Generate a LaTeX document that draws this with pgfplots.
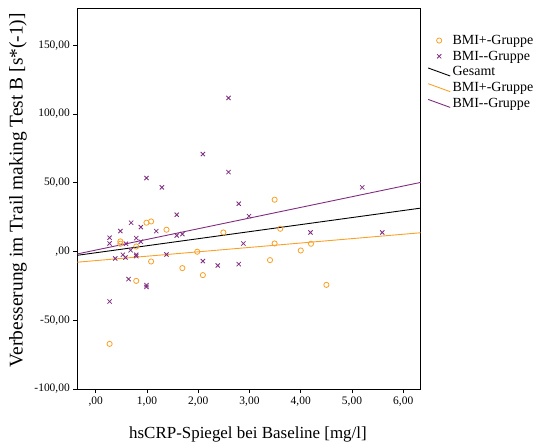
\documentclass[border=0pt]{standalone}
\usepackage{fontspec}
\setmainfont{Liberation Serif}
\usepackage{pgfplots}
\pgfplotsset{compat=1.18}
\definecolor{spssorange}{RGB}{250,160,40}
\definecolor{spsspurple}{RGB}{128,45,128}
\pgfplotsset{
  diagleg/.style={legend image code/.code={\draw[##1] (0bp,4bp) -- (22bp,-4bp);}},
  markleg/.style={legend image code/.code={\draw[mark repeat=2,mark phase=2,##1] plot coordinates {(0bp,0bp) (11bp,0bp) (22bp,0bp)};}},
}
\begin{document}
\begin{tikzpicture}
\path[use as bounding box] (0,0) rectangle (537bp,444bp);
\begin{axis}[
  at={(77.3bp,55bp)}, anchor=south west,
  scale only axis, width=343.4bp, height=381bp,
  xmin=-0.36, xmax=6.34, ymin=-100, ymax=177,
  axis line style={line width=0.9bp},
  tick style={black, line width=0.8bp},
  major tick length=4bp,
  tick align=outside, xtick pos=bottom, ytick pos=left,
  xtick={0,1,2,3,4,5,6},
  xticklabels={{,00},{1,00},{2,00},{3,00},{4,00},{5,00},{6,00}},
  ytick={-100,-50,0,50,100,150},
  yticklabels={{-100,00},{-50,00},{,00},{50,00},{100,00},{150,00}},
  ticklabel style={font=\fontsize{11.5}{13}\selectfont},
  xlabel={hsCRP-Spiegel bei Baseline [mg/l]},
  ylabel={Verbesserung im Trail making Test B [s*(-1)]},
  xlabel style={font=\fontsize{17}{19}\selectfont, at={(axis description cs:0.497,-0.118)}, anchor=center},
  ylabel style={font=\fontsize{19.5}{21}\selectfont, at={(axis description cs:-0.173,0.522)}, anchor=center},
  legend style={draw=none, fill=none, at={(axis description cs:1.017,0.937)}, anchor=north west,
    font=\fontsize{14}{16}\selectfont, row sep=1bp, inner sep=1bp},
  legend cell align=left,
]
\addplot[only marks, mark=o, mark size=2.6bp, spssorange, mark options={line width=0.8bp}, markleg] coordinates {
(0.99,20.9) (1.08,21.8) (1.38,15.8) (2.49,13.8) (0.48,7.3) (0.48,5.6)
(0.79,3.6) (1.98,-0.2) (1.08,-7.3) (1.69,-12.1) (2.09,-17.2) (0.79,-21.4)
(0.27,-67.2) (3.40,-6.3) (3.49,37.6) (3.60,16.5) (3.49,5.8) (4.20,5.6)
(4.00,0.7) (4.50,-24.3)
};
\addlegendentry{BMI+-Gruppe}
\addplot[only marks, mark=x, mark size=3bp, spsspurple, mark options={line width=0.8bp}, markleg] coordinates {
(2.59,111.6) (2.09,70.8) (2.59,57.7) (0.99,53.4) (1.29,46.6)
(2.79,34.7) (2.99,25.7) (1.58,26.7) (0.69,20.9) (0.88,17.7)
(0.48,14.8) (1.18,14.8) (0.27,10.0) (0.27,5.8) (0.79,9.7)
(0.59,5.6) (0.88,7.1) (1.58,11.6) (1.69,12.6) (0.68,0.9)
(0.53,-2.4) (0.58,-4.4) (0.38,-5.1) (0.79,-2.4) (0.79,-3.4)
(1.38,-2.2) (2.09,-7.0) (2.38,-10.2) (2.79,-9.2) (2.88,5.8)
(0.64,-20.1) (0.99,-24.5) (0.99,-25.8) (0.27,-36.4)
(5.20,46.6) (4.19,13.8) (5.59,13.8)
};
\addlegendentry{BMI-{}-Gruppe}
\addplot[black, line width=0.9bp, diagleg] coordinates {(-0.36,-2.8) (6.34,31.5)};
\addlegendentry{Gesamt}
\addplot[spssorange, line width=0.9bp, diagleg] coordinates {(-0.36,-7.8) (6.34,13.6)};
\addlegendentry{BMI+-Gruppe}
\addplot[spsspurple, line width=0.9bp, diagleg] coordinates {(-0.36,-1.8) (6.34,50.2)};
\addlegendentry{BMI-{}-Gruppe}
\end{axis}
\end{tikzpicture}
\end{document}
